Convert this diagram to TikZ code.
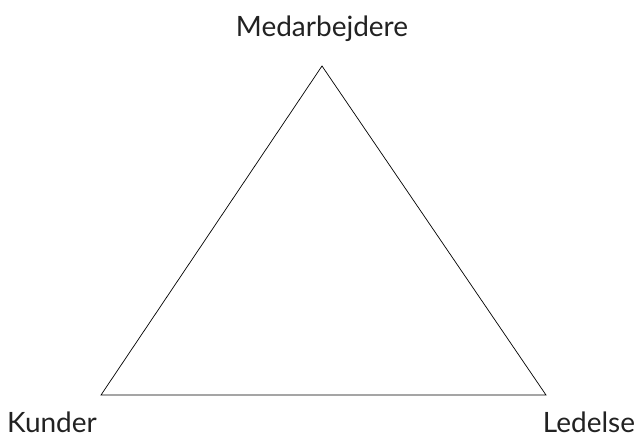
\documentclass[tikz,border=0pt]{standalone}
\usepackage{fontspec}
\setmainfont{Lato}
\definecolor{txt}{HTML}{222222}
\begin{document}
\begin{tikzpicture}[x=1pt,y=-1pt,
  lbl/.style={text=txt,font=\fontsize{28}{32}\selectfont,inner sep=0pt},
  edge/.style={draw=black,line width=0.7pt,line join=miter}]
\useasboundingbox (0,0) rectangle (636,441);
\coordinate (T) at (322,66);
\coordinate (L) at (101,395);
\coordinate (R) at (546,395);
\draw[edge] (T) -- (L) -- (R) -- cycle;
\node[lbl,anchor=base] (m) at (322,37) {Medarbejdere};
\node[lbl,anchor=base] (k) at (52,432) {Kunder};
\node[lbl,anchor=base] (l) at (589,432) {Ledelse};
\end{tikzpicture}
\end{document}
